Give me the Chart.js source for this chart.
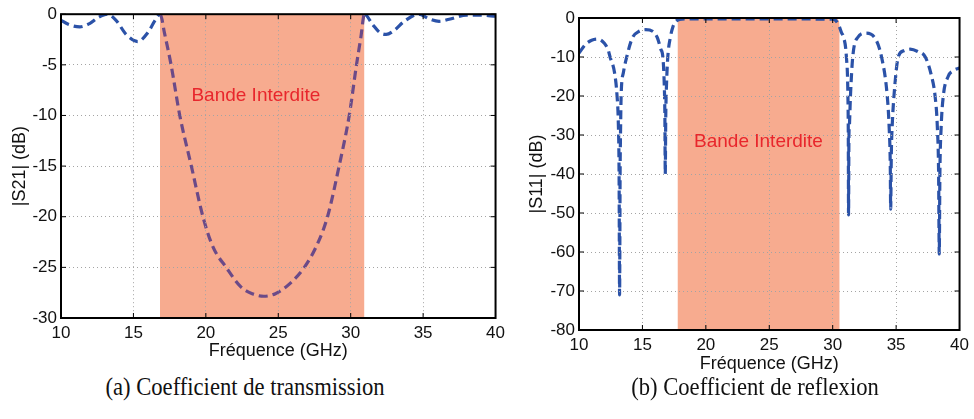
<!DOCTYPE html>
<html>
<head>
<meta charset="utf-8">
<script src="https://cdn.jsdelivr.net/npm/chart.js@4.4.1/dist/chart.umd.min.js"></script>
<style>
  body { margin: 0; background: #fff; }
  #wrap { position: relative; width: 974px; height: 419px; overflow: hidden; }
  canvas { position: absolute; top: 0; }
  #cA { left: 0; }
  #cB { left: 510px; }
  .cap {
    position: absolute; top: 372px; width: 400px; text-align: center;
    font-family: "Liberation Serif", "DejaVu Serif", serif; font-size: 26px; color: #111;
    transform: scaleX(0.87);
  }
</style>
</head>
<body>
<div id="wrap">
  <canvas id="cA" width="510" height="370"></canvas>
  <canvas id="cB" width="464" height="380"></canvas>
  <div class="cap" style="left:45px">(a) Coefficient de transmission</div>
  <div class="cap" style="left:555px">(b) Coefficient de reflexion</div>
</div>
<script>
// (a) |S21| en dB
const freqA = [10, 10.5, 11.3, 12, 12.6, 13.2, 13.8, 14.5, 15.3, 16.0, 16.5, 16.85,
  17.15, 17.6, 18.2, 19.0, 19.8, 20.5, 21.4, 22.4, 23.2, 24.0, 24.8, 25.8, 26.8, 27.7,
  28.4, 29.2, 29.9, 30.4, 30.7, 30.95, 31.5, 32.0, 32.45, 33.0, 33.7, 34.7, 35.4, 36.1,
  36.8, 38.0, 39.0, 40];
const s21 = [-0.6, -1.0, -1.25, -0.9, -0.3, 0, -0.6, -2.0, -2.7, -1.8, -0.6, 0,
  -1.9, -5, -10, -15, -20, -23, -25, -26.9, -27.6, -27.85, -27.6, -26.6, -25, -22.7,
  -20, -15, -10, -5, -2.3, 0, -1.0, -1.8, -2.0, -1.6, -0.7, 0, -0.45, -0.7,
  -0.5, -0.1, -0.1, -0.2];
const bandA = [16.83, 30.95];

// (b) |S11| en dB
const freqB = [10, 10.5, 11.0, 11.5, 12.0, 12.3, 12.45, 12.8, 13.0, 13.1, 13.16, 13.2,
  13.24, 13.28, 13.32, 13.5, 13.76, 14.22, 14.7, 15.26, 15.8, 16.17, 16.45, 16.61, 16.72,
  16.77, 16.8, 16.84, 16.9, 17.0, 17.2, 17.4, 17.6, 17.9, 18.5, 20, 22, 24, 26, 28, 29.5,
  30.0, 30.2, 30.5, 30.7, 30.87, 31.08, 31.2, 31.23, 31.25, 31.28, 31.31, 31.4, 31.58,
  31.97, 32.6, 33.3, 33.85, 34.3, 34.45, 34.54, 34.57, 34.62, 34.7, 34.83, 35.17, 35.6,
  36.1, 36.7, 37.3, 37.8, 38.07, 38.25, 38.35, 38.4, 38.45, 38.55, 38.72, 39.1, 39.5, 40];
const s11 = [-9, -6.8, -5.7, -5.4, -6.5, -8.2, -10, -14, -20, -27, -40, -71,
  -40, -28, -20, -14, -10, -5, -3.5, -3, -3.4, -5, -8, -10, -17,
  -25, -40, -25, -17, -10, -5, -2.3, -1, -0.4, -0.2, -0.2, -0.25, -0.25, -0.25, -0.25, -0.3,
  -0.3, -0.5, -2, -3.8, -5, -10, -20, -30, -50.5, -30, -28, -20, -10,
  -5, -3.9, -5, -10, -20, -28, -38, -49, -35, -27, -20, -10, -8.4,
  -8, -8.6, -10, -15, -20, -28, -40, -60.5, -40, -28, -20, -15, -13.5, -12.8];
const bandBx = [17.75, 17.75, 17.8, 17.9, 18.05, 30.25, 30.4, 30.5, 30.55, 30.55];
const bandBy = [-80, -2, -0.8, -0.25, 0, 0, -0.25, -0.8, -2, -80];

const xTicks = [10, 15, 20, 25, 30, 35, 40];
const yTicksA = [0, -5, -10, -15, -20, -25, -30];
const yTicksB = [0, -10, -20, -30, -40, -50, -60, -70, -80];

const BLUE = '#2b52a8';
const PURPLE = '#6b4a88';
const SHADE = '#f7ab8f';
const FONT = '"Liberation Sans", Arial, sans-serif';

const pts = (xs, ys) => xs.map((x, i) => ({ x, y: ys[i] }));

const framePlugin = {
  id: 'frame',
  afterDraw(chart) {
    const { ctx, chartArea: a, scales: { x, y } } = chart;
    const lbl = chart.options.plugins.bandLabel;
    ctx.save();
    ctx.font = '19px ' + FONT;
    ctx.fillStyle = '#e8262c';
    ctx.textAlign = 'center';
    ctx.textBaseline = 'middle';
    ctx.fillText(lbl.text, x.getPixelForValue(lbl.x), y.getPixelForValue(lbl.y));

    ctx.strokeStyle = '#000';
    ctx.lineWidth = 1;
    ctx.beginPath();
    x.ticks.forEach(t => {
      const px = x.getPixelForValue(t.value);
      ctx.moveTo(px, a.bottom); ctx.lineTo(px, a.bottom - 5);
      ctx.moveTo(px, a.top); ctx.lineTo(px, a.top + 5);
    });
    y.ticks.forEach(t => {
      const py = y.getPixelForValue(t.value);
      ctx.moveTo(a.left, py); ctx.lineTo(a.left + 5, py);
      ctx.moveTo(a.right, py); ctx.lineTo(a.right - 5, py);
    });
    ctx.stroke();
    ctx.lineWidth = 2;
    ctx.strokeRect(a.left, a.top, a.right - a.left, a.bottom - a.top);
    ctx.restore();
  }
};

function makeChart(id, cfg) {
  const inBand = v => v >= cfg.band[0] && v <= cfg.band[1];
  return new Chart(document.getElementById(id), {
    type: 'line',
    data: {
      datasets: [{
        data: cfg.line,
        borderColor: BLUE,
        borderWidth: 3.2,
        borderDash: [9, 5],
        pointRadius: 0,
        cubicInterpolationMode: 'monotone',
        fill: false,
        segment: {
          borderColor: c => (cfg.purple && inBand(c.p0.parsed.x) && inBand(c.p1.parsed.x)) ? PURPLE : BLUE
        }
      }, {
        data: cfg.shade,
        borderWidth: 0,
        pointRadius: 0,
        backgroundColor: SHADE,
        fill: 'start',
        tension: 0
      }]
    },
    options: {
      responsive: false,
      animation: false,
      devicePixelRatio: 1,
      layout: { padding: cfg.pad },
      plugins: {
        legend: { display: false },
        tooltip: { enabled: false },
        bandLabel: cfg.label
      },
      scales: {
        x: {
          type: 'linear', min: 10, max: 40,
          afterBuildTicks: s => { s.ticks = xTicks.map(v => ({ value: v })); },
          afterFit: s => { s.height = cfg.xh; },
          grid: { color: '#a4a4a4', drawTicks: false, z: 1 },
          border: { display: false, dash: [1, 3] },
          ticks: { color: '#111', font: { family: FONT, size: 17 }, padding: 5, maxRotation: 0 },
          title: { display: true, text: 'Fréquence (GHz)', color: '#111',
                   font: { family: FONT, size: 18 }, padding: { top: 0, bottom: cfg.xtp } }
        },
        y: {
          min: cfg.ymin, max: 0,
          afterBuildTicks: s => { s.ticks = cfg.yt.map(v => ({ value: v })); },
          afterFit: s => { s.width = cfg.yw; },
          grid: { color: '#a4a4a4', drawTicks: false, z: 1 },
          border: { display: false, dash: [1, 3] },
          ticks: { color: '#111', font: { family: FONT, size: 17 }, padding: 4, callback: v => String(v) },
          title: { display: true, text: cfg.ytitle, color: '#111',
                   font: { family: FONT, size: 18 }, padding: { top: cfg.ytp, bottom: 0 } }
        }
      }
    },
    plugins: [framePlugin]
  });
}

makeChart('cA', {
  line: pts(freqA, s21),
  shade: pts(bandA, [0, 0]),
  band: bandA, purple: true,
  ymin: -30, yt: yTicksA, ytitle: '|S21| (dB)',
  pad: { top: 14, right: 12, left: 0, bottom: 0 },
  yw: 61, xh: 52, xtp: 8, ytp: 9,
  label: { text: 'Bande Interdite', x: 23.45, y: -8.1 }
});

makeChart('cB', {
  line: pts(freqB, s11),
  shade: pts(bandBx, bandBy),
  band: [bandBx[0], bandBx[bandBx.length - 1]], purple: false,
  ymin: -80, yt: yTicksB, ytitle: '|S11| (dB)',
  pad: { top: 18, right: 9, left: 0, bottom: 0 },
  yw: 69, xh: 50, xtp: 5, ytp: 16,
  label: { text: 'Bande Interdite', x: 24.15, y: -31.7 }
});
</script>
</body>
</html>
